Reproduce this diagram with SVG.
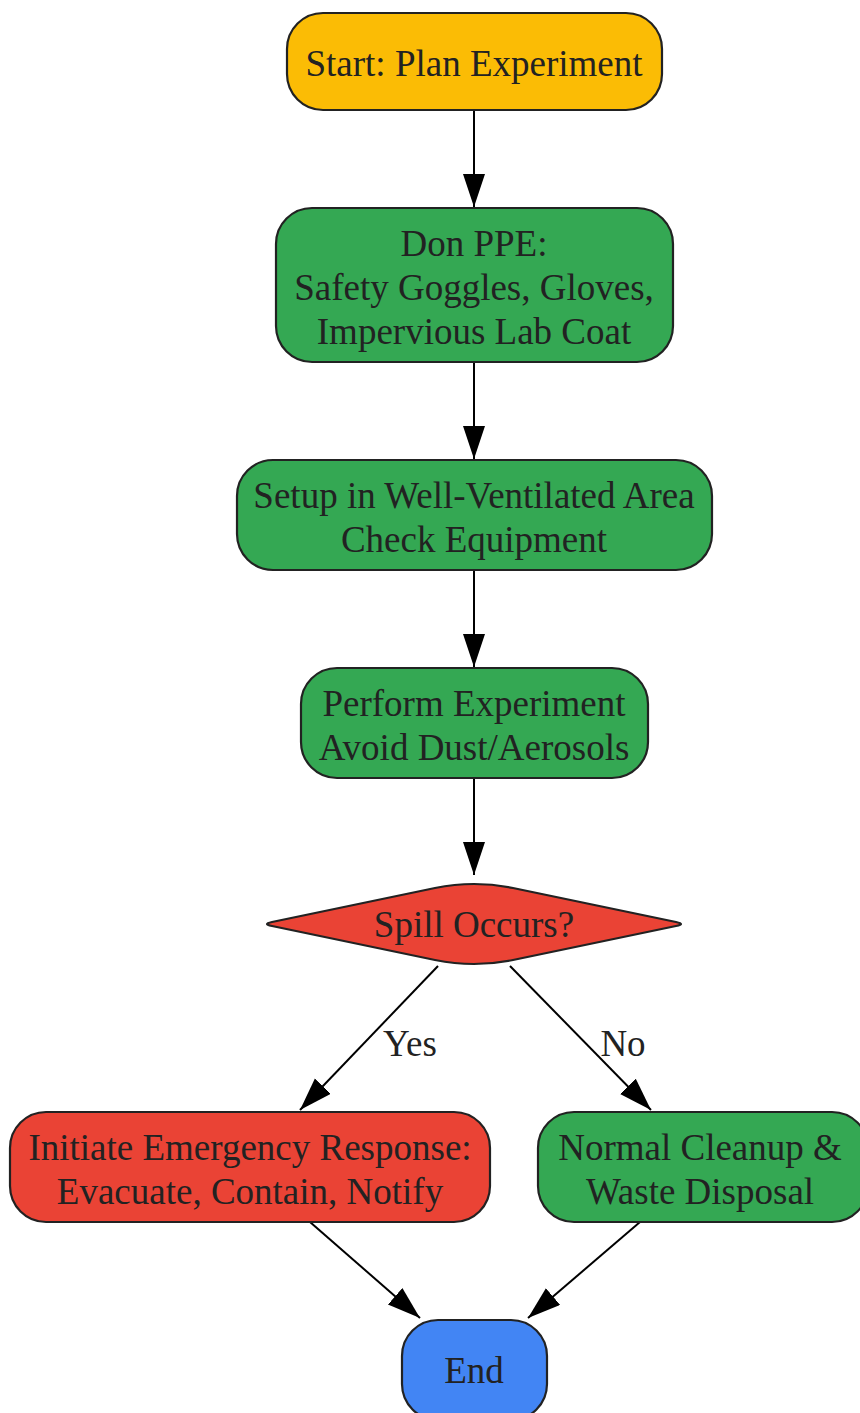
<svg xmlns="http://www.w3.org/2000/svg" width="860" height="1413" viewBox="0 0 860 1413">
<style>
.n{stroke:#222;stroke-width:2.2}
.t{font-family:"Liberation Serif","Times New Roman",serif;font-size:37px;fill:#222;text-anchor:middle}
.e{stroke:#000;stroke-width:2;fill:none;marker-end:url(#ah)}
.y{fill:#FBBC05}.g{fill:#34A853}.r{fill:#EA4335}.b{fill:#4285F4}
</style>
<defs>
<marker id="ah" markerUnits="userSpaceOnUse" markerWidth="34" markerHeight="24" refX="33" refY="11" orient="auto">
<path d="M0,0 L33,11 L0,22 Z" fill="#000"/>
</marker>
</defs>
<rect width="860" height="1413" fill="#fff"/>
<g id="connectors">
<line class="e" x1="474" y1="110" x2="474" y2="207"/>
<line class="e" x1="474" y1="362" x2="474" y2="459"/>
<line class="e" x1="474" y1="570" x2="474" y2="667"/>
<line class="e" x1="474" y1="778" x2="474" y2="875"/>
<line class="e" x1="438" y1="966" x2="300" y2="1110"/>
<line class="e" x1="510" y1="966" x2="651" y2="1110"/>
<line class="e" x1="310" y1="1222" x2="420" y2="1318"/>
<line class="e" x1="640" y1="1222" x2="528" y2="1318"/>
<text class="t" x="410" y="1056">Yes</text>
<text class="t" x="623" y="1056">No</text>
</g>
<g id="start">
<rect class="n y" x="287" y="13" width="375" height="97" rx="36"/>
<text class="t" x="474" y="76">Start: Plan Experiment</text>
</g>
<g id="ppe">
<rect class="n g" x="276" y="208" width="397" height="154" rx="36"/>
<text class="t" x="474" y="256">Don PPE:</text>
<text class="t" x="474" y="300">Safety Goggles, Gloves,</text>
<text class="t" x="474" y="344">Impervious Lab Coat</text>
</g>
<g id="setup">
<rect class="n g" x="237" y="460" width="475" height="110" rx="36"/>
<text class="t" x="474" y="508">Setup in Well-Ventilated Area</text>
<text class="t" x="474" y="552">Check Equipment</text>
</g>
<g id="perform">
<rect class="n g" x="301" y="668" width="347" height="110" rx="36"/>
<text class="t" x="474" y="716">Perform Experiment</text>
<text class="t" x="474" y="760">Avoid Dust/Aerosols</text>
</g>
<g id="spill">
<path class="n r" d="M272,922 L435,888 Q474,880 513,888 L676,922 Q686,924 676,926 L513,960 Q474,968 435,960 L272,926 Q262,924 272,922 Z"/>
<text class="t" x="474" y="937">Spill Occurs?</text>
</g>
<g id="emergency">
<rect class="n r" x="10" y="1112" width="480" height="110" rx="36"/>
<text class="t" x="250" y="1160">Initiate Emergency Response:</text>
<text class="t" x="250" y="1204">Evacuate, Contain, Notify</text>
</g>
<g id="cleanup">
<rect class="n g" x="538" y="1112" width="330" height="110" rx="36"/>
<text class="t" x="700" y="1160">Normal Cleanup &amp;</text>
<text class="t" x="700" y="1204">Waste Disposal</text>
</g>
<g id="end">
<rect class="n b" x="402" y="1320" width="145" height="100" rx="36"/>
<text class="t" x="474" y="1383">End</text>
</g>
</svg>
